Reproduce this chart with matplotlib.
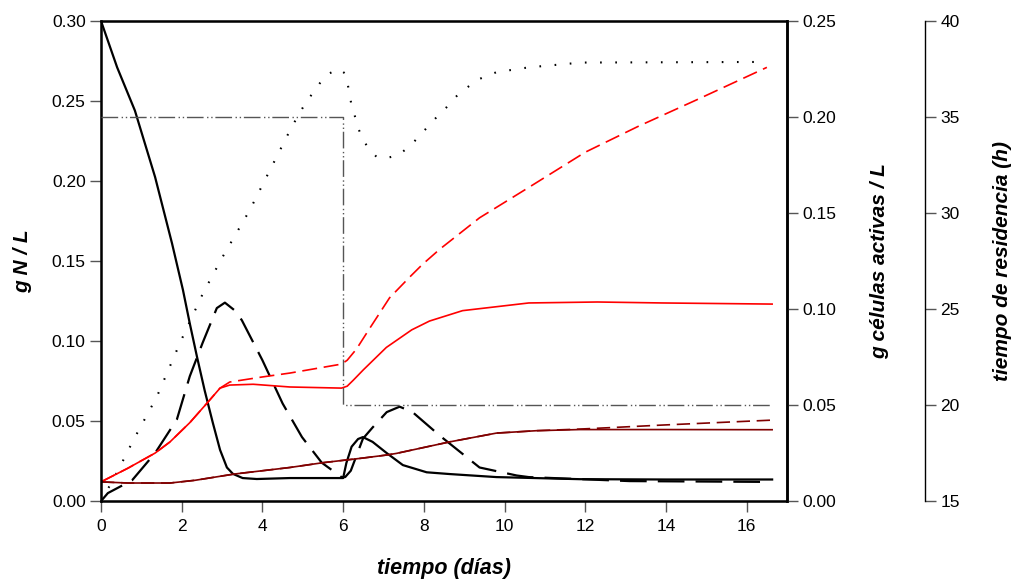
import numpy as np
import matplotlib
matplotlib.use("Agg")
import matplotlib.pyplot as plt
from matplotlib.ticker import StrMethodFormatter

plt.rcParams['font.family'] = ['Liberation Sans', 'DejaVu Sans']

# nitrogen in medium (solid black)
t_n = [0, 0.4, 0.84, 1.34, 1.76, 2.03, 2.2, 2.38, 2.57, 2.77, 2.95, 3.12, 3.27,
       3.51, 3.86, 4.68, 6.0, 6.08, 6.21, 6.37, 6.49, 6.73, 7.08, 7.48, 8.07, 8.64,
       9.8, 11.86, 14.0, 16.63]
n_med = [0.300, 0.271, 0.244, 0.2025, 0.161, 0.132, 0.111, 0.090, 0.069, 0.049,
         0.032, 0.021, 0.017, 0.0144, 0.0138, 0.0144, 0.0144, 0.0238, 0.034, 0.0388,
         0.040, 0.037, 0.030, 0.0225, 0.018, 0.0169, 0.015, 0.0137, 0.0135, 0.0135]

# long dashed black
t_ld = [0, 0.17, 0.77, 1.34, 1.88, 2.2, 2.52, 2.87, 3.07, 3.32, 3.49, 4.0, 4.5,
        4.98, 5.47, 5.96, 6.05, 6.19, 6.49, 6.73, 7.08, 7.4, 7.72, 8.39, 9.38, 10.3,
        10.6, 13.1, 16.5]
v_ld = [0.0, 0.005, 0.013, 0.030, 0.051, 0.078, 0.099, 0.1206, 0.124, 0.119, 0.113,
        0.088, 0.061, 0.040, 0.024, 0.015, 0.015, 0.019, 0.039, 0.046, 0.0556, 0.059,
        0.0556, 0.041, 0.021, 0.016, 0.015, 0.0125, 0.012]

# dotted black
t_dot = [0, 0.18, 0.42, 0.8, 1.38, 1.96, 2.53, 3.0, 3.69, 4.73, 5.05, 5.22, 5.42,
         5.64, 5.89, 6.06, 6.11, 6.16, 6.21, 6.29, 6.36, 6.46, 6.61, 6.83, 7.08, 7.35,
         7.62, 7.85, 8.1, 8.32, 8.56, 8.81, 9.3, 9.8, 10.6, 11.9, 16.5]
v_dot = [0.0, 0.008, 0.019, 0.038, 0.065, 0.099, 0.130, 0.152, 0.182, 0.234, 0.248,
         0.254, 0.261, 0.267, 0.270, 0.267, 0.261, 0.254, 0.247, 0.2406, 0.234, 0.2275,
         0.221, 0.215, 0.2144, 0.216, 0.221, 0.227, 0.234, 0.240, 0.246, 0.253, 0.263,
         0.268, 0.271, 0.274, 0.2744]

# red solid
t_rs = [0, 0.67, 1.34, 1.71, 2.2, 2.62, 2.95, 3.19, 3.77, 4.68, 5.96, 6.1, 6.25,
        6.5, 7.07, 7.7, 8.14, 8.96, 10.6, 12.3, 13.9, 16.63]
v_rs = [0.012, 0.0206, 0.030, 0.037, 0.049, 0.061, 0.0706, 0.0725, 0.073, 0.0713,
        0.0706, 0.0718, 0.0755, 0.082, 0.096, 0.107, 0.1125, 0.119, 0.1238, 0.1244,
        0.1238, 0.1231]

# red dashed
t_rd = [0, 0.67, 1.34, 1.71, 2.2, 2.62, 2.95, 3.19, 3.98, 4.68, 5.96, 6.1, 6.33,
        6.66, 7.15, 7.65, 7.97, 8.4, 9.38, 10.6, 12.0, 13.3, 14.75, 16.5]
v_rd = [0.012, 0.0206, 0.030, 0.037, 0.049, 0.061, 0.0706, 0.0744, 0.0775, 0.080,
        0.0856, 0.088, 0.095, 0.108, 0.127, 0.140, 0.148, 0.1575, 0.177, 0.196,
        0.218, 0.234, 0.2506, 0.271]

# dark red solid / dashed
t_ms = [0, 0.67, 1.71, 2.33, 3.3, 4.68, 5.5, 6.49, 7.08, 7.32, 8.64, 9.8, 10.8,
        11.86, 13.9, 16.63]
v_ms = [0.012, 0.0113, 0.0113, 0.013, 0.0169, 0.021, 0.0240, 0.0269, 0.0288, 0.0298,
        0.037, 0.0425, 0.0440, 0.0447, 0.0447, 0.0446]
t_md = [0, 0.67, 1.71, 2.33, 3.3, 4.68, 5.5, 6.49, 7.08, 7.32, 8.64, 9.8, 10.8,
        11.86, 12.7, 13.9, 16.63]
v_md = [0.012, 0.0113, 0.0113, 0.013, 0.0169, 0.021, 0.0240, 0.0269, 0.0288, 0.0298,
        0.037, 0.0425, 0.0440, 0.0450, 0.046, 0.0475, 0.0506]

# residence time (h)
t_tau = [0, 6, 6, 16.6]
tau = [35, 35, 20, 20]

fig = plt.figure(figsize=(10.11, 5.82), dpi=100)
ax = fig.add_axes([0.0999, 0.139, 0.6786, 0.825])
ax2 = ax.twinx()
ax3 = ax.twinx()

ax.plot(t_n, n_med, color='black', lw=1.6)
ax.plot(t_ld, v_ld, color='black', lw=1.6, dashes=(12, 5))
ax.plot(t_dot, v_dot, color='black', lw=1.5, dashes=(0.8, 6.5))
ax.plot(t_rs, v_rs, color='#ff0000', lw=1.2)
ax.plot(t_rd, v_rd, color='#ff0000', lw=1.2, dashes=(9, 4))
ax.plot(t_ms, v_ms, color='#800000', lw=1.2)
ax.plot(t_md, v_md, color='#800000', lw=1.2, dashes=(8, 4))
ax3.plot(t_tau, tau, color='#555555', lw=1.0, dashes=(12, 2.5, 1, 2, 1, 2))

ax.set_xlim(0, 17)
ax.set_ylim(0, 0.30)
ax.set_xticks(np.arange(0, 17, 2))
ax.set_yticks(np.arange(0, 0.31, 0.05))
ax.yaxis.set_major_formatter(StrMethodFormatter('{x:.2f}'))

ax2.set_ylim(0, 0.25)
ax2.set_yticks(np.arange(0, 0.26, 0.05))
ax2.yaxis.set_major_formatter(StrMethodFormatter('{x:.2f}'))

ax3.set_ylim(15, 40)
ax3.set_yticks(np.arange(15, 41, 5))
ax3.spines['right'].set_position(('axes', 1.201))
for s in ['top', 'left', 'bottom']:
    ax3.spines[s].set_visible(False)
ax3.spines['right'].set_linewidth(1.0)

for s in ax.spines.values():
    s.set_linewidth(1.8)
ax2.spines['right'].set_linewidth(1.8)

for a in (ax, ax2, ax3):
    a.tick_params(direction='out', length=8, width=1, color='#555555',
                  labelsize=12.5, pad=3)
ax.tick_params(axis='x', pad=5)

lbl = dict(fontweight='bold', fontstyle='italic')
ax.set_xlabel('tiempo (días)', fontsize=15.5, labelpad=17, **lbl)
ax.set_ylabel('g N / L', fontsize=15, labelpad=14, **lbl)
ax2.set_ylabel('g células activas / L', fontsize=15, labelpad=24, **lbl)
ax3.set_ylabel('tiempo de residencia (h)', fontsize=15, labelpad=24, **lbl)

fig.savefig('out.png', dpi=100)
